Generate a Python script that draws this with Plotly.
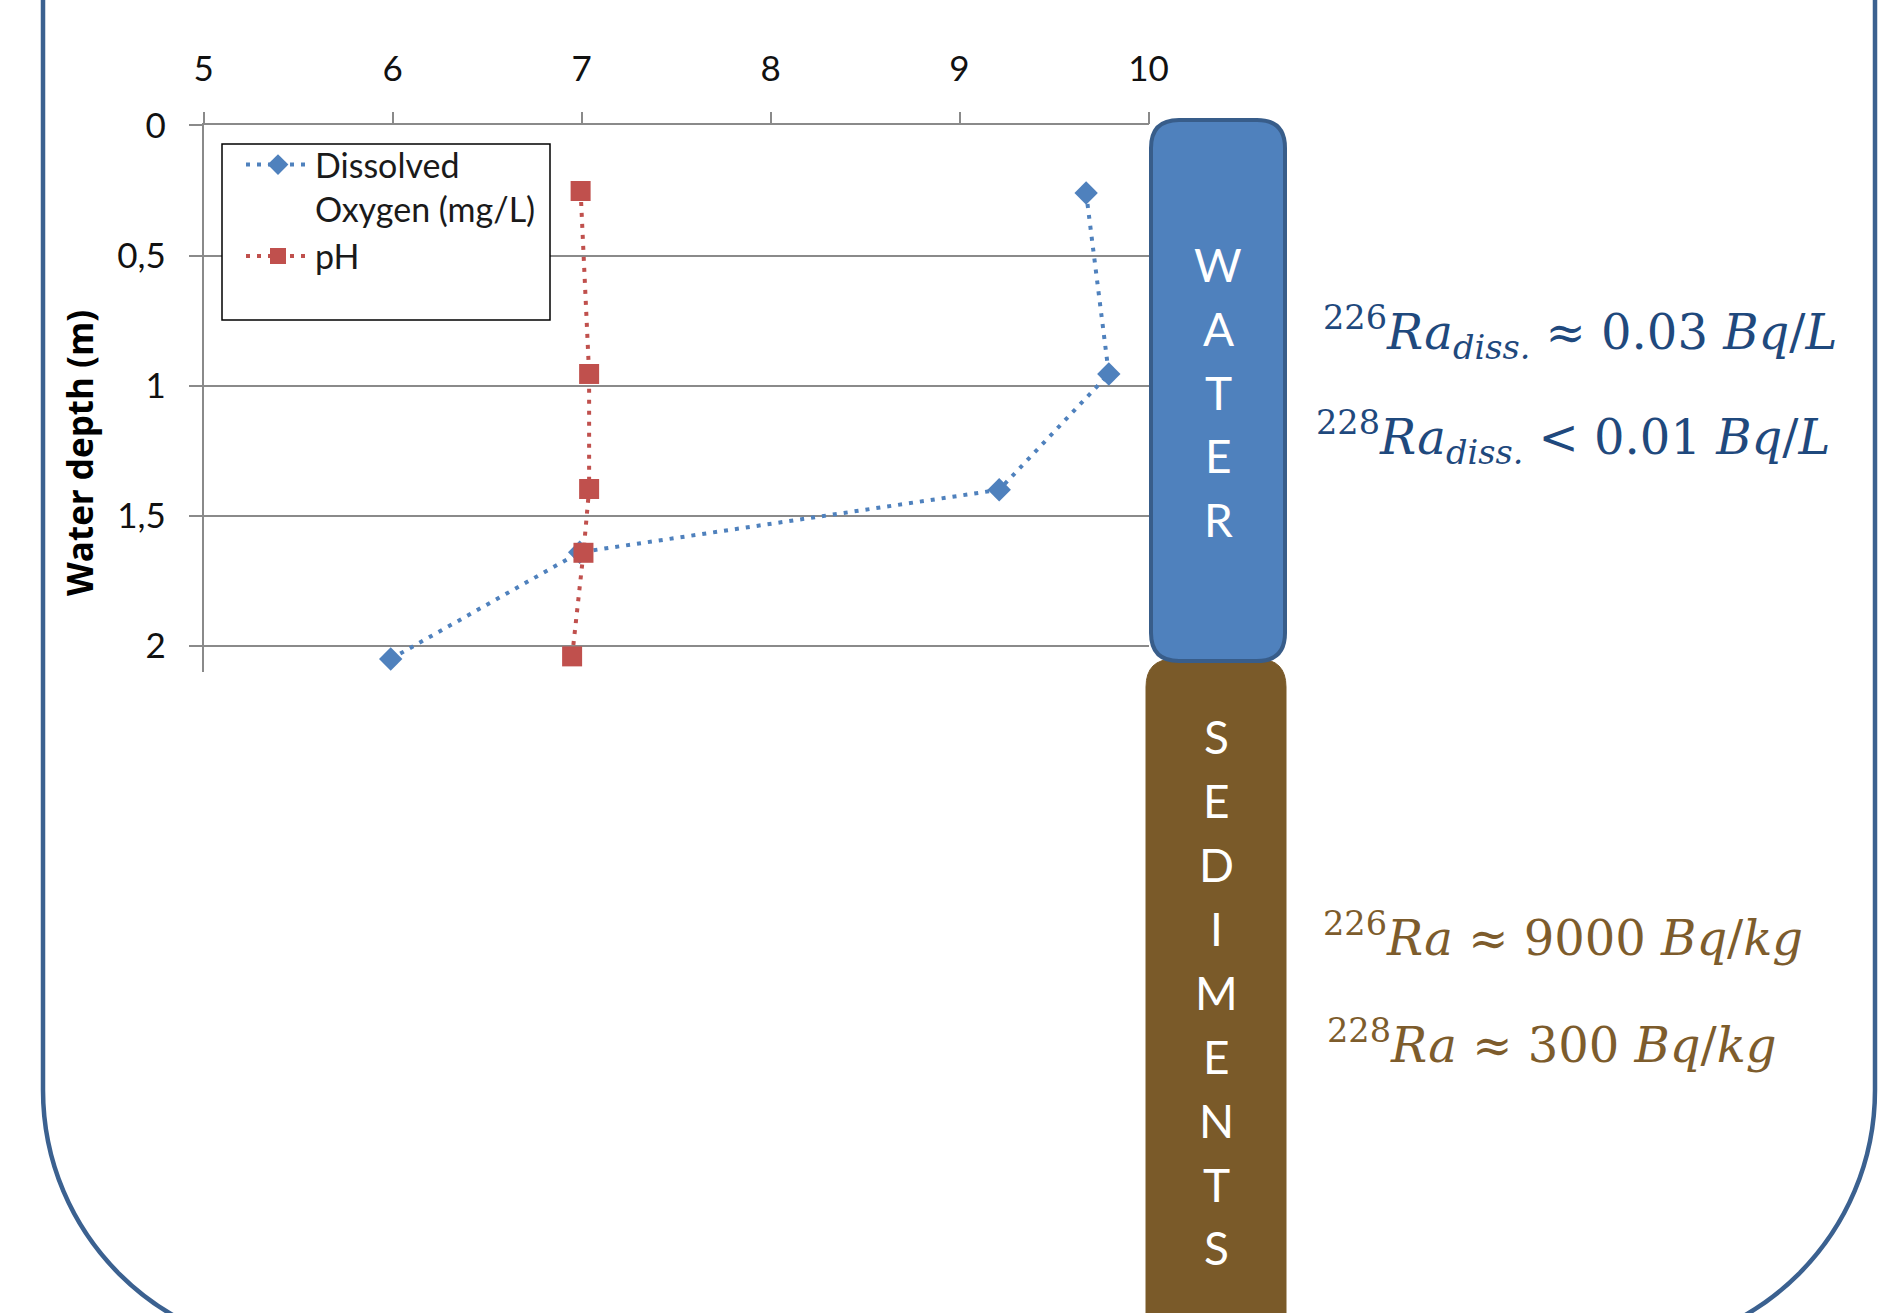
"""Water column profile: dissolved oxygen and pH vs depth, with radium notes."""

import plotly.graph_objects as go

W, H = 1897, 1313

# measured profiles
do_mgl = [9.67, 9.79, 9.21, 6.99, 5.99]
do_depth = [0.26, 0.955, 1.40, 1.64, 2.05]
ph_val = [6.995, 7.04, 7.04, 7.01, 6.95]
ph_depth = [0.252, 0.955, 1.397, 1.642, 2.04]

x_ticks = [5, 6, 7, 8, 9, 10]
y_ticks = [0, 0.5, 1, 1.5, 2]
y_ticktext = ["0", "0,5", "1", "1,5", "2"]

water_word = "WATER"
sed_word = "SEDIMENTS"
water_notes = [
    "<sup>226</sup><i>Ra</i><sub><i>diss.</i></sub> ≈ 0.03 <i>Bq</i>/<i>L</i>",
    "<sup>228</sup><i>Ra</i><sub><i>diss.</i></sub> &lt; 0.01 <i>Bq</i>/<i>L</i>",
]
sed_notes = [
    "<sup>226</sup><i>Ra</i> ≈ 9000 <i>Bq</i>/<i>kg</i>",
    "<sup>228</sup><i>Ra</i> ≈ 300 <i>Bq</i>/<i>kg</i>",
]

BLUE = "#4F81BD"
RED = "#C0504D"
GRID = "#8a8a8a"


def px(x):
    return x / W


def py(y):
    return 1 - y / H


def rounded_rect(x0, y0, x1, y1, r):
    pts = [
        f"M {px(x0 + r)},{py(y0)}",
        f"L {px(x1 - r)},{py(y0)}",
        f"Q {px(x1)},{py(y0)} {px(x1)},{py(y0 + r)}",
        f"L {px(x1)},{py(y1 - r)}",
        f"Q {px(x1)},{py(y1)} {px(x1 - r)},{py(y1)}",
        f"L {px(x0 + r)},{py(y1)}",
        f"Q {px(x0)},{py(y1)} {px(x0)},{py(y1 - r)}",
        f"L {px(x0)},{py(y0 + r)}",
        f"Q {px(x0)},{py(y0)} {px(x0 + r)},{py(y0)}",
        "Z",
    ]
    return " ".join(pts)


def frame_path(xl, xr, ytop, ycurve, r):
    k = 0.5523 * r
    yb = ycurve + r
    pts = [
        f"M {px(xl)},{py(ytop)}",
        f"L {px(xl)},{py(ycurve)}",
        f"C {px(xl)},{py(ycurve + k)} {px(xl + r - k)},{py(yb)} {px(xl + r)},{py(yb)}",
        f"L {px(xr - r)},{py(yb)}",
        f"C {px(xr - r + k)},{py(yb)} {px(xr)},{py(ycurve + k)} {px(xr)},{py(ycurve)}",
        f"L {px(xr)},{py(ytop)}",
    ]
    return " ".join(pts)


def note(text, x, y, size, color, family, anchor="center", **kw):
    return dict(text=text, x=px(x), y=py(y), xref="paper", yref="paper",
                xanchor=anchor, yanchor="middle", showarrow=False,
                font={"family": family, "size": size, "color": color}, **kw)


fig = go.Figure()

fig.add_trace(go.Scatter(
    x=do_mgl, y=do_depth,
    name="Dissolved<br>Oxygen (mg/L)",
    mode="lines+markers",
    line={"color": BLUE, "width": 4, "dash": "4px,7px"},
    marker={"symbol": "diamond", "size": 18, "color": BLUE},
))
fig.add_trace(go.Scatter(
    x=ph_val, y=ph_depth,
    name="pH",
    mode="lines+markers",
    line={"color": RED, "width": 4, "dash": "4px,7px"},
    marker={"symbol": "square", "size": 20, "color": RED},
))

shapes = [
    # outer rounded frame
    dict(type="path", xref="paper", yref="paper",
         path=frame_path(43, 1875, -30, 1090, 260),
         line={"color": "#3B6190", "width": 4.5}),
    # legend box
    dict(type="rect", xref="paper", yref="paper",
         x0=px(222), x1=px(550), y0=py(320), y1=py(144),
         line={"color": "#000000", "width": 1.5}, fillcolor="white", layer="above"),
    # sediments column
    dict(type="path", xref="paper", yref="paper",
         path=rounded_rect(1146, 659, 1286, 1360, 28),
         fillcolor="#7A5A29", line={"color": "#7A5A29", "width": 1}),
    # water column
    dict(type="path", xref="paper", yref="paper",
         path=rounded_rect(1151, 120, 1285, 661, 28),
         fillcolor=BLUE, line={"color": "#385D8A", "width": 4}),
]

annotations = [
    note("<b>Water depth (m)</b>", 80, 453, 35, "#000000", "Open Sans", textangle=-90),
]
for i, ch in enumerate(water_word):
    annotations.append(note(ch, 1218, 264.5 + i * 63.8, 46, "white", "Lato"))
for i, ch in enumerate(sed_word):
    annotations.append(note(ch, 1216, 736.7 + i * 63.9, 46, "white", "Lato"))
for txt, x, y in zip(water_notes, [1321, 1314], [333, 437]):
    annotations.append(note(txt, x, y, 48, "#1F497D", "DejaVu Serif", anchor="left"))
for txt, x, y in zip(sed_notes, [1321, 1325], [935, 1042]):
    annotations.append(note(txt, x, y, 48, "#7D5C2C", "DejaVu Serif", anchor="left"))

fig.update_layout(
    width=W, height=H,
    margin={"l": 0, "r": 0, "t": 0, "b": 0, "autoexpand": False},
    paper_bgcolor="white",
    plot_bgcolor="white",
    showlegend=True,
    legend={
        "x": px(241), "y": py(136), "xanchor": "left", "yanchor": "top",
        "bgcolor": "rgba(0,0,0,0)", "borderwidth": 0,
        "font": {"family": "Lato", "size": 34, "color": "#1a1a1a"},
        "itemwidth": 64, "valign": "top", "tracegroupgap": 0,
    },
    xaxis={
        "domain": [px(203.6), px(1148.5)],
        "range": [5, 10], "side": "top", "automargin": False,
        "tickvals": x_ticks,
        "showgrid": False, "zeroline": False,
        "showline": True, "linecolor": GRID, "linewidth": 1.5,
        "ticks": "outside", "ticklen": 12, "tickcolor": GRID, "tickwidth": 1.5,
        "ticklabelstandoff": 17,
        "tickfont": {"family": "Lato", "size": 35, "color": "#111111"},
    },
    yaxis={
        "domain": [py(672), py(125.4)],
        "range": [2.1, 0], "automargin": False,
        "tickvals": y_ticks, "ticktext": y_ticktext,
        "showgrid": True, "gridcolor": GRID, "gridwidth": 1.5,
        "zeroline": False,
        "showline": True, "linecolor": GRID, "linewidth": 1.5,
        "ticks": "outside", "ticklen": 13, "tickcolor": GRID, "tickwidth": 1.5,
        "ticklabelstandoff": 16,
        "tickfont": {"family": "Lato", "size": 35, "color": "#111111"},
    },
    shapes=shapes,
    annotations=annotations,
)

fig.write_html(
    "out.html",
    config={"displayModeBar": False},
    post_script="document.body.style.margin='0';",
)
